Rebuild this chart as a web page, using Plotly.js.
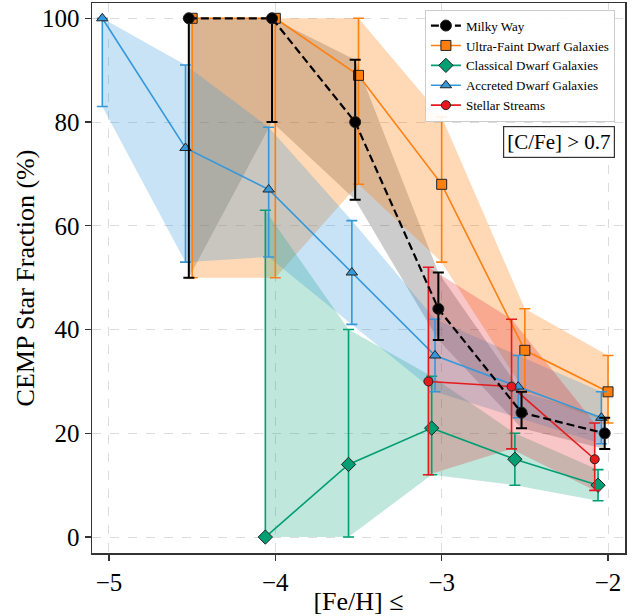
<!DOCTYPE html>
<html>
<head>
<meta charset="utf-8">
<script src="https://cdn.plot.ly/plotly-3.0.1.min.js"></script>
<style>html,body{margin:0;padding:0;background:#fff;}#chart{width:640px;height:616px;}</style>
</head>
<body>
<div id="chart"></div>
<script>
// [Fe/H] bins (upper limits) and plotting offsets per sample
const binsMW = [-4.5, -4.0, -3.5, -3.0, -2.5, -2.0];
const mwY  = [100, 100, 80, 44, 24, 20];
const mwLo = [50, 80, 65, 38, 21, 17];
const mwHi = [100, 100, 92, 51, 28, 23];

const binsUFD = [-4.5, -4.0, -3.5, -3.0, -2.5, -2.0];
const ufdY  = [100, 100, 89, 68, 36, 28];
const ufdLo = [50, 50, 68, 53, 28, 22];
const ufdHi = [100, 100, 100, 81, 44, 35];

const binsCl = [-4.0, -3.5, -3.0, -2.5, -2.0];
const clY  = [0, 14, 21, 15, 10];
const clLo = [0, 0, 12, 10, 7];
const clHi = [63, 40, 31, 20, 13];

const binsAc = [-5.0, -4.5, -4.0, -3.5, -3.0, -2.5, -2.0];
const acY  = [100, 75, 67, 51, 35, 29, 23];
const acLo = [83, 53, 54, 41, 28, 23, 18];
const acHi = [100, 91, 79, 61, 42, 35, 28];

const binsSS = [-3.0, -2.5, -2.0];
const ssY  = [30, 29, 15];
const ssLo = [12, 17, 9];
const ssHi = [52, 42, 22];

const names = ["Milky Way", "Ultra-Faint Dwarf Galaxies", "Classical Dwarf Galaxies", "Accreted Dwarf Galaxies", "Stellar Streams"];

const series = [
  {name: names[0], x: binsMW, y: mwY, lo: mwLo, hi: mwHi, off: -0.02, color: "#000000", fill: "rgba(0,0,0,0.2)", symbol: "circle", size: 11, dash: "8px,4px", lw: 2.2, ew: 2},
  {name: names[1], x: binsUFD, y: ufdY, lo: ufdLo, hi: ufdHi, off: 0.0, color: "#ff7f0e", fill: "rgba(255,127,14,0.3)", symbol: "square", size: 10, dash: "solid", lw: 1.6, ew: 1.6},
  {name: names[2], x: binsCl, y: clY, lo: clLo, hi: clHi, off: -0.06, color: "#009e73", fill: "rgba(0,158,115,0.25)", symbol: "diamond", size: 11, dash: "solid", lw: 1.6, ew: 1.6},
  {name: names[3], x: binsAc, y: acY, lo: acLo, hi: acHi, off: -0.04, color: "#3498db", fill: "rgba(52,152,219,0.27)", symbol: "triangle-up", size: 10, dash: "solid", lw: 1.6, ew: 1.6},
  {name: names[4], x: binsSS, y: ssY, lo: ssLo, hi: ssHi, off: -0.08, color: "#e41a1c", fill: "rgba(228,26,28,0.25)", symbol: "circle", size: 9, dash: "solid", lw: 1.6, ew: 1.6}
];

const traces = [];
// shaded bands first
series.forEach(s => {
  const xs = s.x.map(v => v + s.off);
  traces.push({
    type: "scatter", mode: "lines",
    x: xs.concat(xs.slice().reverse()),
    y: s.hi.concat(s.lo.slice().reverse()),
    fill: "toself", fillcolor: s.fill,
    line: {width: 0, color: "rgba(0,0,0,0)"},
    hoverinfo: "skip", showlegend: false
  });
});
// error-bar lines; Milky Way drawn last so dashes are on top
const order = [1, 2, 3, 4, 0];
order.forEach(i => {
  const s = series[i];
  const xs = s.x.map(v => v + s.off);
  traces.push({
    type: "scatter", mode: "lines+markers", name: s.name,
    x: xs, y: s.y,
    line: {color: s.color, width: s.lw, dash: s.dash},
    marker: {symbol: s.symbol, size: s.size, color: s.color, line: {color: "#222", width: 1}},
    error_y: {type: "data", symmetric: false,
      array: s.hi.map((h, k) => h - s.y[k]),
      arrayminus: s.lo.map((l, k) => s.y[k] - l),
      color: s.color, thickness: s.ew, width: 5.5},
    legendrank: i + 1
  });
});

const font = "Liberation Serif, Times New Roman, serif";
const layout = {
  width: 640, height: 616,
  margin: {l: 92, r: 15, t: 3, b: 63},
  paper_bgcolor: "#fff", plot_bgcolor: "#fff",
  font: {family: font, color: "#000"},
  xaxis: {
    range: [-5.102, -1.898], tickvals: [-5, -4, -3, -2],
    showgrid: true, gridcolor: "#dcdcdc", griddash: "dash", gridwidth: 1,
    zeroline: false, showline: true, linecolor: "#333", linewidth: 1.5, mirror: true,
    ticks: "outside", ticklen: 6, tickwidth: 1.2, tickcolor: "#333",
    tickfont: {family: font, size: 25},
    title: {text: "[Fe/H] ≤", font: {family: font, size: 26}, standoff: 5}
  },
  yaxis: {
    range: [-3.07, 102.95], tickvals: [0, 20, 40, 60, 80, 100],
    showgrid: true, gridcolor: "#dcdcdc", griddash: "dash", gridwidth: 1,
    zeroline: false, showline: true, linecolor: "#333", linewidth: 1.5, mirror: true,
    ticks: "outside", ticklen: 6, tickwidth: 1.2, tickcolor: "#333",
    tickfont: {family: font, size: 25},
    title: {text: "CEMP Star Fraction (%)", font: {family: font, size: 26}, standoff: 0}
  },
  legend: {
    x: 0.6246, y: 0.988, xanchor: "left", yanchor: "top",
    bgcolor: "rgba(255,255,255,0.9)", bordercolor: "#ccc", borderwidth: 1,
    font: {family: font, size: 13}, traceorder: "normal"
  },
  annotations: [{
    xref: "paper", yref: "paper", x: 0.8755, y: 0.7477, xanchor: "center", yanchor: "middle",
    text: "[C/Fe] > 0.7", showarrow: false,
    font: {family: font, size: 21, color: "#000"},
    bordercolor: "#333", borderwidth: 1.2, borderpad: 3, bgcolor: "#fff"
  }],
  showlegend: true
};

Plotly.newPlot("chart", traces, layout, {displayModeBar: false, staticPlot: true});
</script>
</body>
</html>
